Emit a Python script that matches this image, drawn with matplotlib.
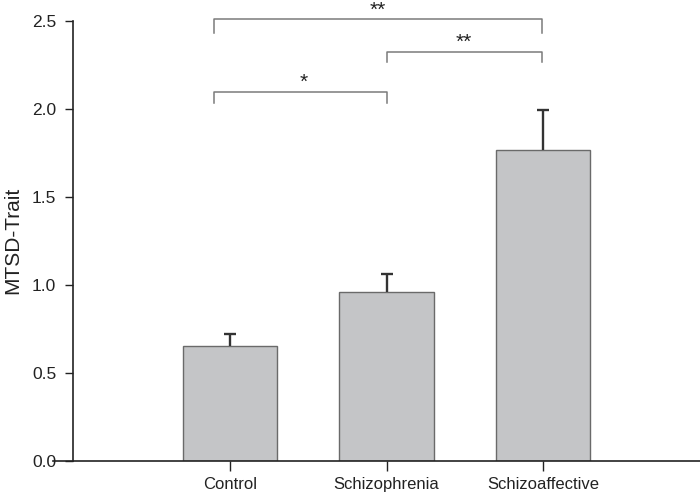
import matplotlib
matplotlib.use("Agg")
import matplotlib.pyplot as plt

categories = ["Control", "Schizophrenia", "Schizoaffective"]
means = [0.65, 0.957, 1.764]
errors = [0.07, 0.103, 0.227]
yticks = [0.0, 0.5, 1.0, 1.5, 2.0, 2.5]

# significance brackets: (x_left, x_right, y_top, y_bottom, label, label_baseline_y)
brackets = [
    (0.9, 2.99, 2.507, 2.43, "**", 2.528),
    (2.0, 2.99, 2.32, 2.265, "**", 2.345),
    (0.9, 2.0, 2.092, 2.03, "*", 2.118),
]

plt.rcParams['font.family'] = ['Liberation Sans', 'DejaVu Sans']
fig = plt.figure(figsize=(7.0, 4.94), dpi=100)
ax = fig.add_axes([73/700, 1 - 460.5/494, (700-73)/700, 440/494])

x = [1, 2, 3]
ax.bar(x, means, width=0.6, color="#c4c5c7", edgecolor="#6a6a6a", linewidth=1.0, zorder=2)
eb = ax.errorbar(x, means, yerr=[[0]*3, errors], fmt="none", ecolor="#333333",
                 elinewidth=1.7, capsize=4.5, capthick=1.7, zorder=3)
# hide the lower caps (drawn at the bar tops)
eb[1][0].set_visible(False)

for xl, xr, yt, yb, lab, ly in brackets:
    ax.plot([xl, xl, xr, xr], [yb, yt, yt, yb], color="#7a7a7a", lw=1.1,
            clip_on=False, zorder=4)
    ax.text((xl + xr) / 2 + (0.02 if lab == "*" else 0.0), ly, lab, ha="center", va="baseline",
            fontsize=15, color="#222222", clip_on=False)

ax.set_xlim(0, 4)
ax.set_ylim(0, 2.5)
ax.set_xticks(x)
ax.set_xticklabels(categories, fontsize=12, color="#222222")
ax.set_yticks(yticks)
ax.set_yticklabels([f"{v:.1f}" for v in yticks], fontsize=12.5, color="#222222")
ax.set_ylabel("MTSD-Trait", fontsize=15, color="#222222", labelpad=7)

for s in ["top", "right"]:
    ax.spines[s].set_visible(False)
for s in ["left", "bottom"]:
    ax.spines[s].set_color("#222222")
    ax.spines[s].set_linewidth(1.2)
ax.spines["bottom"].set_bounds(-0.13, 4)
ax.tick_params(axis="y", direction="out", length=6, width=1.0, color="#222222", pad=6)
ax.tick_params(axis="x", direction="out", length=7, width=1.0, color="#222222", pad=5)

fig.savefig("out.png", dpi=100)
